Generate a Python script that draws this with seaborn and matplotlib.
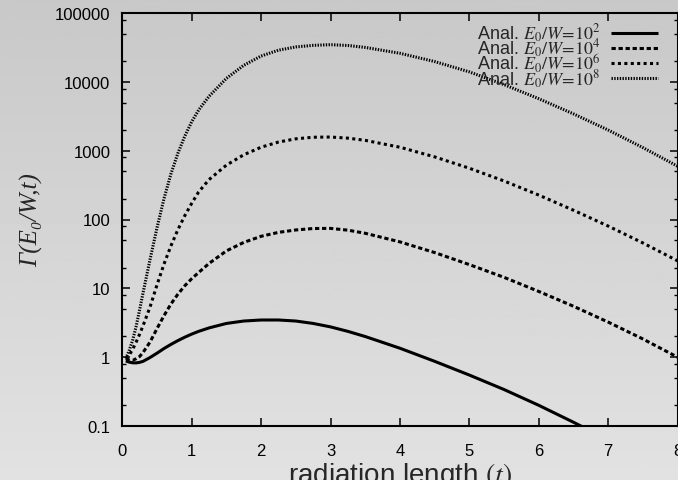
import numpy as np
import pandas as pd
import matplotlib
matplotlib.use("Agg")
import matplotlib.pyplot as plt
import seaborn as sns
from matplotlib.ticker import FixedLocator, LogLocator, NullFormatter, FixedFormatter

# ---- data ----
T = [0.05, 0.1, 0.15, 0.2, 0.25, 0.3, 0.4, 0.5, 0.6, 0.7, 0.8, 0.9, 1.0, 1.1, 1.25,
     1.5, 1.75, 2.0, 2.25, 2.5, 2.75, 3.0, 3.25, 3.5, 4.0, 4.5, 5.0, 5.5, 6.0, 6.5,
     7.0, 7.5, 8.0]
T_E2 = T[:31]  # the 10^2 curve leaves the frame (below 0.1) near t = 6.6
G_E2 = [0.881, 0.847, 0.828, 0.826, 0.841, 0.871, 0.989, 1.143, 1.334, 1.531, 1.738,
        1.950, 2.163, 2.371, 2.661, 3.090, 3.350, 3.467, 3.467, 3.350, 3.090, 2.754,
        2.371, 1.995, 1.349, 0.871, 0.550, 0.339, 0.200, 0.1135, 0.0631]
G_E4 = [0.951, 0.910, 0.899, 0.951, 1.023, 1.175, 1.660, 2.600, 4.000, 5.902, 8.204,
        10.89, 13.80, 16.98, 23.01, 34.99, 46.45, 57.02, 65.01, 70.47, 73.96, 74.30,
        69.98, 63.10, 47.32, 33.11, 22.13, 14.45, 9.016, 5.495, 3.236, 1.841, 1.0]
G_E6 = [0.955, 1.072, 1.303, 1.660, 2.163, 2.884, 5.370, 11.22, 22.39, 41.21, 70.79,
        113.5, 171.8, 251.2, 380.2, 616.6, 871.0, 1122, 1334, 1486, 1567, 1578, 1521,
        1413, 1122, 812.8, 555.9, 363.1, 226.5, 136.5, 80.35, 45.71, 25.12]
G_E8 = [0.955, 1.259, 1.778, 2.818, 4.898, 8.710, 26.30, 75.86, 199.5, 457.1, 912.0,
        1622, 2630, 3890, 6166, 11220, 17380, 23710, 28840, 32140, 33880, 34670, 33730,
        31620, 26000, 19720, 13960, 9120, 5689, 3428, 1995, 1109, 595.7]

LABELS = [r"Anal. $E_0/W\!=\!10^2$", r"Anal. $E_0/W\!=\!10^4$",
          r"Anal. $E_0/W\!=\!10^6$", r"Anal. $E_0/W\!=\!10^8$"]
X_TICKS = [0, 1, 2, 3, 4, 5, 6, 7, 8]
Y_TICKS = [0.1, 1, 10, 100, 1000, 10000, 100000]
Y_TICK_LABELS = ["0.1", "1", "10", "100", "1000", "10000", "100000"]

# ---- style ----
sns.set_style("ticks")
plt.rcParams["font.family"] = ["Liberation Sans", "DejaVu Sans"]
plt.rcParams["mathtext.fontset"] = "stix"

W, H = 678, 481
fig = plt.figure(figsize=(W / 100, H / 100), dpi=100)
fig.patch.set_facecolor("none")

# background vertical gradient
bg = fig.add_axes([0, 0, 1, 1], zorder=-10)
grad = np.linspace(0.785, 0.885, 256).reshape(-1, 1)
bg.imshow(grad, aspect="auto", cmap="gray", vmin=0, vmax=1,
          extent=[0, 1, 0, 1], origin="upper")
bg.set_axis_off()

left, right, top, bottom = 122.3, 677.5, 14.0, 427.0
ax = fig.add_axes([left / W, 1 - bottom / H, (right - left) / W, (bottom - top) / H])
ax.set_facecolor("none")

lw = 2.2
styles = [
    dict(linestyle="-"),
    dict(linestyle=(0, (1.4, 0.9))),
    dict(linestyle=(0, (1.0, 1.1))),
    dict(linestyle=(0, (0.45, 0.45))),
]
series = [(T_E2, G_E2), (T, G_E4), (T, G_E6), (T, G_E8)]
for (tx, gy), lab, st in zip(series, LABELS, styles):
    df = pd.DataFrame({"t": tx, "g": gy})
    sns.lineplot(data=df, x="t", y="g", ax=ax, color="black", linewidth=lw,
                 label=lab, solid_capstyle="butt", dash_capstyle="butt", **st)

ax.set_yscale("log")
ax.set_xlim(0, 8)
ax.set_ylim(0.1, 100000)

ax.xaxis.set_major_locator(FixedLocator(X_TICKS))
ax.set_xticklabels([str(v) for v in X_TICKS])
ax.yaxis.set_major_locator(FixedLocator(Y_TICKS))
ax.yaxis.set_major_formatter(FixedFormatter(Y_TICK_LABELS))
ax.yaxis.set_minor_locator(LogLocator(base=10, subs=[2, 5, 8]))
ax.yaxis.set_minor_formatter(NullFormatter())

ax.tick_params(axis="both", which="major", direction="in", length=5.5, width=1.1,
               color="black", labelsize=12, labelcolor="black",
               top=True, right=True)
ax.tick_params(axis="y", which="minor", direction="in", length=3.2, width=1.0,
               color="black", left=True, right=True)
ax.tick_params(axis="y", which="major", pad=8.5)
ax.tick_params(axis="x", which="major", pad=12)
for s in ax.spines.values():
    s.set_visible(True)
    s.set_linewidth(1.5)
    s.set_color("black")

ax.set_xlabel(r"radiation length $(t)$", fontsize=20, va="top")
ax.xaxis.set_label_coords(0.5, -0.082)
ax.set_ylabel("Γ(E₀/W,t)", fontsize=18, va="center", style="italic",
              family=["Liberation Serif", "DejaVu Serif"])
ax.yaxis.set_label_coords(-0.163, 0.5)

leg = ax.legend(loc="upper right", bbox_to_anchor=(0.964, 0.979), frameon=False,
                markerfirst=False, fontsize=13, handlelength=2.6, handletextpad=0.55,
                labelspacing=-0.4, borderpad=0, borderaxespad=0)

fig.savefig("out.png", dpi=100)
